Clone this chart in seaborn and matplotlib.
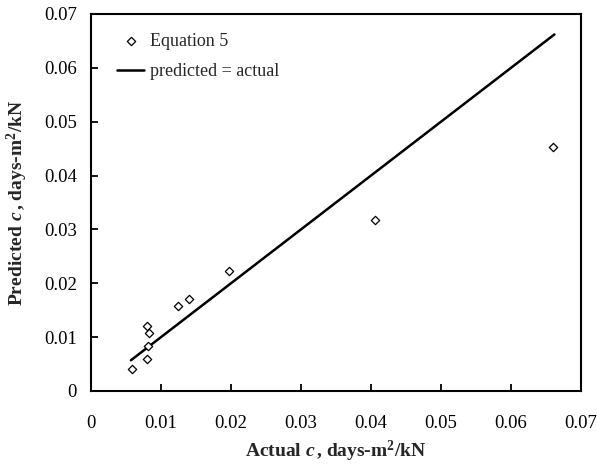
import pandas as pd
import matplotlib.pyplot as plt
import seaborn as sns

# Data
actual = [0.0058, 0.0080, 0.0082, 0.0083, 0.0080, 0.0125, 0.0140, 0.0197, 0.0406, 0.0660]
predicted = [0.0041, 0.0059, 0.0084, 0.0108, 0.0121, 0.0157, 0.0171, 0.0223, 0.0317, 0.0453]
line_x = [0.0057, 0.0662]
line_y = [0.0057, 0.0662]
ticks = [0, 0.01, 0.02, 0.03, 0.04, 0.05, 0.06, 0.07]
tick_labels = ['0', '0.01', '0.02', '0.03', '0.04', '0.05', '0.06', '0.07']

df = pd.DataFrame({'Actual': actual, 'Predicted': predicted})
df_line = pd.DataFrame({'x': line_x, 'y': line_y})

sns.set_style('ticks')
plt.rcParams['font.family'] = ['Liberation Serif', 'DejaVu Serif']
plt.rcParams['mathtext.fontset'] = 'custom'
plt.rcParams['mathtext.rm'] = 'Liberation Serif:bold'
plt.rcParams['mathtext.it'] = 'Liberation Serif:italic:bold'
plt.rcParams['mathtext.bf'] = 'Liberation Serif:bold'

fig = plt.figure(figsize=(5.97, 4.76), dpi=100)
ax = fig.add_axes([0.1524, 0.1786, 0.8208, 0.792])

sns.scatterplot(data=df, x='Actual', y='Predicted', marker='D', s=18,
                facecolor='white', edgecolor='black', linewidth=0.9,
                label='Equation 5', ax=ax, zorder=3)
sns.lineplot(data=df_line, x='x', y='y', color='black', linewidth=1.8,
             label='predicted = actual', ax=ax)

ax.set_xlim(0, 0.07)
ax.set_ylim(0, 0.07)
ax.set_xticks(ticks)
ax.set_xticklabels(tick_labels)
ax.set_yticks(ticks)
ax.set_yticklabels(tick_labels)
ax.tick_params(direction='in', length=5, width=1.3, labelsize=13.5, color='black',
               labelcolor='black')
ax.tick_params(axis='x', pad=17)
ax.tick_params(axis='y', pad=10)
for s in ax.spines.values():
    s.set_visible(True)
    s.set_linewidth(1.5)
    s.set_color('black')

ax.set_xlabel(r'Actual $c\,$, days-m$^2$/kN', fontsize=14, fontweight='bold', labelpad=5)
ax.set_ylabel(r'Predicted $c\,$, days-m$^2$/kN', fontsize=14, fontweight='bold', labelpad=10)

ax.legend(loc='upper left', bbox_to_anchor=(0.02, 0.993), frameon=False, fontsize=13,
          handlelength=1.5, handletextpad=0.3, labelspacing=0.75)

fig.savefig('out.png', dpi=100)
